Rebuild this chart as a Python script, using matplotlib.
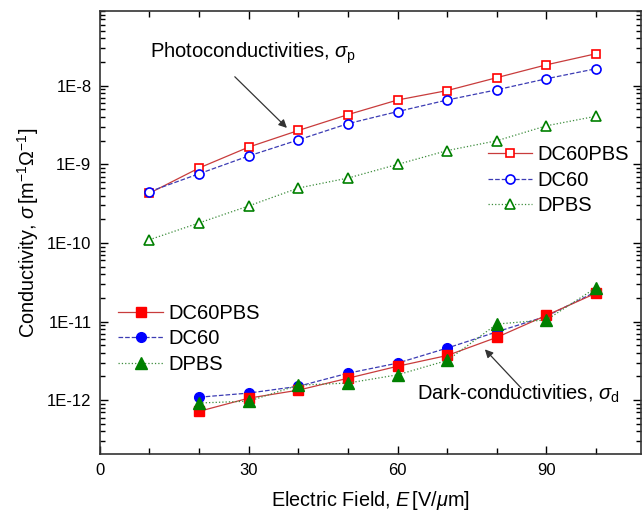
import numpy as np
import matplotlib
matplotlib.use('Agg')
import matplotlib.pyplot as plt
from matplotlib.ticker import FixedLocator, LogLocator, FuncFormatter, NullFormatter

plt.rcParams['font.family'] = ['Liberation Sans', 'DejaVu Sans']
plt.rcParams['mathtext.fontset'] = 'custom'
plt.rcParams['mathtext.rm'] = 'Liberation Sans'
plt.rcParams['mathtext.it'] = 'Liberation Sans:italic'

# electric field (V/um)
field_photo = [10, 20, 30, 40, 50, 60, 70, 80, 90, 100]
field_dark = [20, 30, 40, 50, 60, 70, 80, 90, 100]

# photoconductivities
photo_dc60pbs = [4.3e-10, 9.0e-10, 1.66e-9, 2.7e-9, 4.3e-9, 6.6e-9, 8.7e-9, 1.27e-8, 1.85e-8, 2.56e-8]
photo_dc60 = [4.5e-10, 7.6e-10, 1.28e-9, 2.05e-9, 3.3e-9, 4.7e-9, 6.6e-9, 8.9e-9, 1.23e-8, 1.65e-8]
photo_dpbs = [1.1e-10, 1.8e-10, 2.96e-10, 5.0e-10, 6.7e-10, 1.0e-9, 1.5e-9, 2.0e-9, 3.1e-9, 4.1e-9]

# dark conductivities
dark_dc60pbs = [7.2e-13, 1.06e-12, 1.34e-12, 1.9e-12, 2.7e-12, 3.7e-12, 6.3e-12, 1.2e-11, 2.3e-11]
dark_dc60 = [1.09e-12, 1.23e-12, 1.5e-12, 2.2e-12, 2.96e-12, 4.6e-12, 7.4e-12, 1.17e-11, 2.4e-11]
dark_dpbs = [9.2e-13, 9.7e-13, 1.55e-12, 1.65e-12, 2.1e-12, 3.2e-12, 9.3e-12, 1.05e-11, 2.7e-11]

labels = ['DC60PBS', 'DC60', 'DPBS']

fig = plt.figure(figsize=(6.44, 5.15), dpi=100)
ax = fig.add_axes([0.155, 0.118, 0.84, 0.861])

red, blue, green = '#ff0000', '#0000ff', '#008000'
lred, lblue, lgreen = '#c83c3c', '#3c3cb4', '#3c8c3c'

p1, = ax.plot(field_photo, photo_dc60pbs, '-', color=lred, lw=0.9, marker='s', ms=6,
              mfc='white', mec=red, mew=1.2, label=labels[0])
p2, = ax.plot(field_photo, photo_dc60, '--', color=lblue, lw=0.9, marker='o', ms=6.5,
              mfc='white', mec=blue, mew=1.2, label=labels[1])
p3, = ax.plot(field_photo, photo_dpbs, ':', color=lgreen, lw=0.9, marker='^', ms=7,
              mfc='white', mec=green, mew=1.2, label=labels[2])

d2, = ax.plot(field_dark, dark_dc60, '--', color=lblue, lw=0.9, marker='o', ms=7,
              mfc=blue, mec=blue, label=labels[1])
d1, = ax.plot(field_dark, dark_dc60pbs, '-', color=lred, lw=0.9, marker='s', ms=6.5,
              mfc=red, mec=red, label=labels[0])
d3, = ax.plot(field_dark, dark_dpbs, ':', color=lgreen, lw=0.9, marker='^', ms=8,
              mfc=green, mec=green, label=labels[2])

ax.set_yscale('log')
ax.set_xlim(0, 109)
ax.set_ylim(2.05e-13, 9.0e-8)

ax.set_xticks([0, 30, 60, 90])
ax.set_xticks(np.arange(0, 110, 10), minor=True)
ax.yaxis.set_major_locator(FixedLocator([1e-12, 1e-11, 1e-10, 1e-9, 1e-8]))
ax.yaxis.set_minor_locator(LogLocator(base=10, subs=np.arange(2, 10)))
ax.yaxis.set_minor_formatter(NullFormatter())
ax.yaxis.set_major_formatter(FuncFormatter(lambda v, p: '1E%d' % int(round(np.log10(v)))))

ax.tick_params(which='both', direction='in', top=True, right=True, labelsize=12, width=1)
ax.tick_params(which='major', length=6, pad=6)
ax.tick_params(which='minor', length=3.5)
ax.tick_params(axis='x', which='minor', length=4.5)
for s in ax.spines.values():
    s.set_linewidth(1.2)
    s.set_color('#333333')

ax.set_xlabel(r'Electric Field, $E\,$[V/$\mu$m]', fontsize=14.3, labelpad=8)
ax.set_ylabel(r'Conductivity, $\sigma\,$[m$^{-1}\Omega^{-1}$]', fontsize=14.3, labelpad=4)

leg1 = fig.legend(handles=[p1, p2, p3], loc='upper left', bbox_to_anchor=(0.757, 0.718),
                  frameon=False, fontsize=14.5, handlelength=2.2, handletextpad=0.3,
                  labelspacing=0.32, borderpad=0, borderaxespad=0)
leg2 = fig.legend(handles=[d1, d2, d3], loc='upper left', bbox_to_anchor=(0.184, 0.41),
                  frameon=False, fontsize=14.5, handlelength=2.2, handletextpad=0.3,
                  labelspacing=0.32, borderpad=0, borderaxespad=0)

ax.annotate(r'Photoconductivities, $\sigma_\mathrm{p}$', xy=(38.1, 2.75e-9), xytext=(10.1, 2.27e-8),
            fontsize=14.5, va='baseline', ha='left')
ax.annotate('', xy=(38.1, 2.75e-9), xytext=(26.8, 1.38e-8),
            arrowprops=dict(arrowstyle='-|>', color='#333333', lw=0.9, mutation_scale=12))

ax.annotate(r'Dark-conductivities, $\sigma_\mathrm{d}$', xy=(77.2, 4.7e-12), xytext=(63.9, 1.0e-12),
            fontsize=14.5, va='baseline', ha='left')
ax.annotate('', xy=(77.2, 4.7e-12), xytext=(85.3, 1.34e-12),
            arrowprops=dict(arrowstyle='-|>', color='#333333', lw=0.9, mutation_scale=12))

fig.savefig('out.png', dpi=100)
